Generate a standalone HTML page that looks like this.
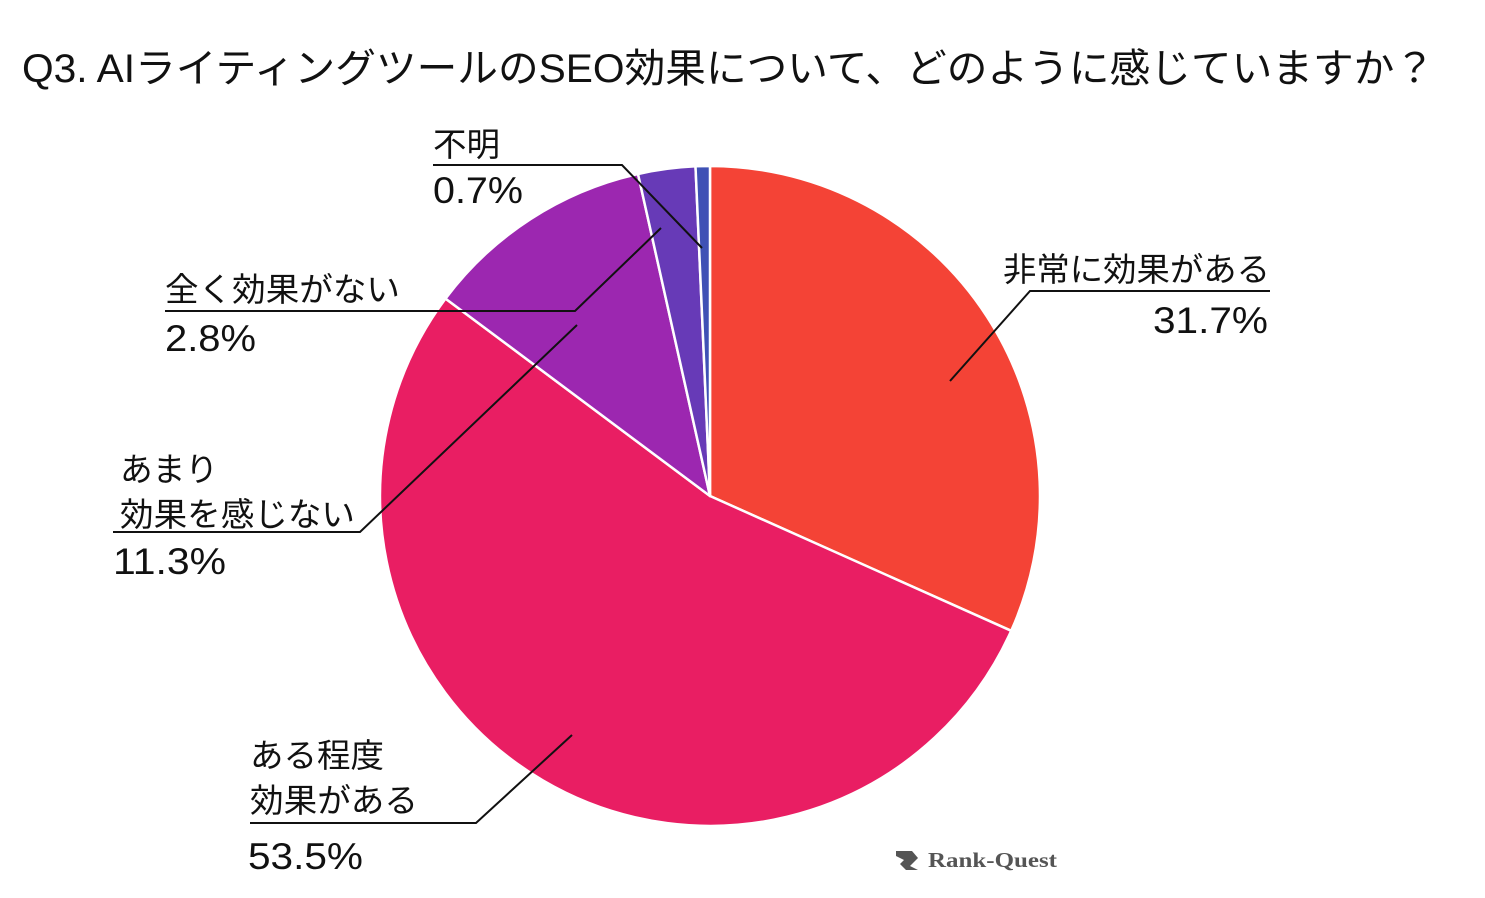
<!DOCTYPE html>
<html><head><meta charset="utf-8"><style>
html,body{margin:0;padding:0;background:#fff;}
svg{display:block;}
text{font-family:"Liberation Sans","Noto Sans CJK JP",sans-serif;fill:#111;}
</style></head><body>
<svg width="1485" height="898" viewBox="0 0 1485 898" xmlns="http://www.w3.org/2000/svg">
<rect width="1485" height="898" fill="#fff"/>
<text x="22" y="82" font-size="40" textLength="1413" lengthAdjust="spacingAndGlyphs">Q3. AIライティングツールのSEO効果について、どのように感じていますか？</text>
<g stroke="#fff" stroke-width="2.5" stroke-linejoin="round">
<path d="M710,496 L710,166 A330,330 0 0 1 1011.2,630.8 Z" fill="#F44336"/>
<path d="M710,496 L1011.2,630.8 A330,330 0 1 1 445.5,298.6 Z" fill="#E91E63"/>
<path d="M710,496 L445.5,298.6 A330,330 0 0 1 638,174 Z" fill="#9C27B0"/>
<path d="M710,496 L638,174 A330,330 0 0 1 695.5,166.3 Z" fill="#673AB7"/>
<path d="M710,496 L695.5,166.3 A330,330 0 0 1 710,166 Z" fill="#3F51B5"/>
</g>
<g stroke="#111" stroke-width="2" fill="none">
<polyline points="950,381 1030,291 1270,291"/>
<polyline points="572,735 476,823 250,823"/>
<polyline points="577,325 360,532 113,532"/>
<polyline points="661,228 575,311 165,311"/>
<polyline points="702,248 622,165 433,165"/>
</g>
<g font-size="33">
<text x="1003" y="281" textLength="267" lengthAdjust="spacingAndGlyphs">非常に効果がある</text>
<text x="1153" y="333" font-size="37" textLength="115" lengthAdjust="spacingAndGlyphs">31.7%</text>
<text x="250" y="767" textLength="134" lengthAdjust="spacingAndGlyphs">ある程度</text>
<text x="250" y="812" textLength="168" lengthAdjust="spacingAndGlyphs">効果がある</text>
<text x="248" y="869" font-size="37" textLength="115" lengthAdjust="spacingAndGlyphs">53.5%</text>
<text x="120" y="481" textLength="98" lengthAdjust="spacingAndGlyphs">あまり</text>
<text x="120" y="526" textLength="235" lengthAdjust="spacingAndGlyphs">効果を感じない</text>
<text x="113" y="574" font-size="37" textLength="113" lengthAdjust="spacingAndGlyphs">11.3%</text>
<text x="165" y="301" textLength="235" lengthAdjust="spacingAndGlyphs">全く効果がない</text>
<text x="165" y="351" font-size="37" textLength="91" lengthAdjust="spacingAndGlyphs">2.8%</text>
<text x="433" y="156" textLength="67" lengthAdjust="spacingAndGlyphs">不明</text>
<text x="433" y="203" font-size="37" textLength="90" lengthAdjust="spacingAndGlyphs">0.7%</text>
</g>
<g>
<path d="M896,851 L912,851 L918,858 L910,866 L918,870 L906,870 L900,864 L904,860 L896,856 Z" fill="#555"/>
<text x="928" y="867" font-weight="bold" font-size="21" style="fill:#555;font-family:'Liberation Serif',serif" textLength="129" lengthAdjust="spacingAndGlyphs">Rank-Quest</text>
</g>
</svg>
</body></html>
